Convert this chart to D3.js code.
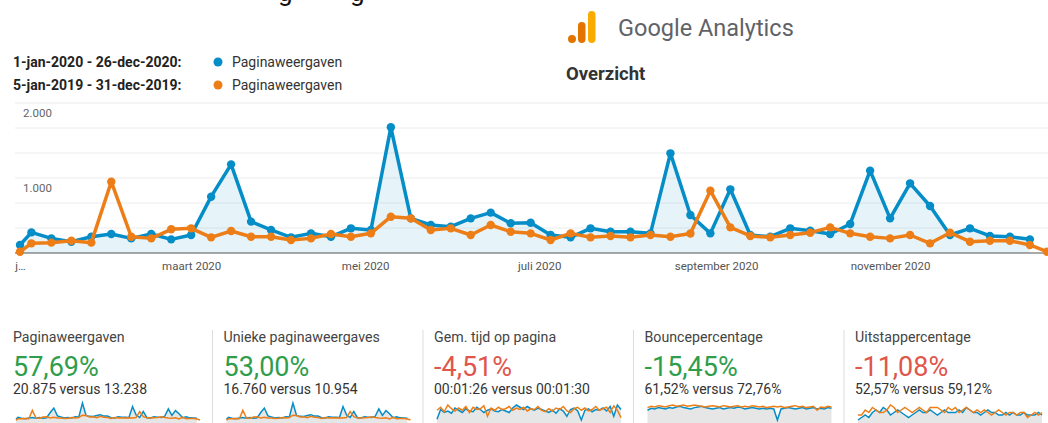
<!DOCTYPE html>
<html>
<head>
<meta charset="utf-8">
<script src="https://cdn.jsdelivr.net/npm/d3@7"></script>
<style>
  body { margin: 0; background: #fff; font-family: Roboto, "Noto Sans", sans-serif; }
</style>
</head>
<body>
<script>
// Weekly page views, current period (1-jan-2020 - 26-dec-2020)
const currentViews = [107, 275, 195, 150, 217, 253, 195, 253, 182, 240, 751, 1182, 418, 307, 209, 262, 217, 329, 307, 1676,
  462, 373, 351, 462, 538, 396, 404, 240, 209, 329, 284, 284, 262, 1329, 507, 262, 849, 240, 217, 329,
  298, 253, 387, 1098, 462, 929, 627, 240, 329, 227, 217, 182];
// Previous period (5-jan-2019 - 31-dec-2019), one point longer
const previousViews = [17, 129, 138, 164, 138, 951, 217, 195, 316, 329, 209, 293, 217, 217, 173, 195, 253, 217, 262, 484,
  462, 307, 329, 240, 373, 284, 262, 173, 262, 209, 227, 209, 240, 217, 260, 831, 342, 227, 209, 240,
  271, 342, 262, 217, 195, 240, 129, 271, 151, 164, 164, 107, 17];

const legendPeriods = ["1-jan-2020 - 26-dec-2020:", "5-jan-2019 - 31-dec-2019:"];
const legendMetric = "Paginaweergaven";

const tickDates = ["2020-01-01", "2020-03-01", "2020-05-01", "2020-07-01", "2020-09-01", "2020-11-01"];
const tickLabels = ["j…", "maart 2020", "mei 2020", "juli 2020", "september 2020", "november 2020"];
const yLabelValues = [2000, 1000];

// bottom scorecards
const metricNames = ["Paginaweergaven", "Unieke paginaweergaves", "Gem. tijd op pagina", "Bouncepercentage", "Uitstappercentage"];
const metricChange = ["57,69%", "53,00%", "-4,51%", "-15,45%", "-11,08%"];
const metricCompare = ["20.875 versus 13.238", "16.760 versus 10.954", "00:01:26 versus 00:01:30", "61,52% versus 72,76%", "52,57% versus 59,12%"];
const metricGood = [true, true, false, true, false];

// sparkline series for the last three cards (read roughly from the thumbnails)
const timeCurrent = [62, 88, 80, 84, 78, 92, 86, 80, 90, 84, 82, 94, 88, 80, 86, 90, 84, 82, 88, 84, 80, 92, 100, 94, 88, 96,
  90, 86, 92, 88, 84, 80, 86, 78, 90, 84, 70, 88, 92, 84, 60, 86, 90, 82, 88, 86, 92, 84, 96, 70, 100, 88];
const timePrevious = [86, 94, 82, 100, 90, 84, 92, 86, 96, 80, 94, 88, 90, 98, 70, 92, 86, 94, 88, 90, 96, 86, 92, 88, 94, 84,
  90, 88, 96, 86, 82, 90, 84, 92, 88, 96, 84, 80, 90, 94, 86, 92, 84, 88, 96, 86, 90, 94, 80, 98, 86, 66];
const bounceCurrent = [60, 63, 62, 64, 63, 62, 64, 63, 65, 66, 64, 63, 62, 64, 65, 66, 64, 63, 62, 63, 64, 62, 63, 64, 63, 65,
  64, 62, 63, 64, 63, 62, 63, 62, 63, 62, 45, 62, 63, 64, 63, 62, 63, 64, 62, 63, 64, 62, 63, 62, 64, 63];
const bouncePrevious = [64, 66, 65, 67, 66, 65, 67, 68, 66, 67, 68, 66, 67, 68, 67, 66, 65, 66, 67, 66, 65, 67, 66, 65, 66, 67,
  65, 66, 65, 67, 66, 65, 66, 64, 65, 66, 65, 66, 64, 65, 66, 67, 65, 66, 64, 65, 66, 60, 65, 64, 66, 65];
const exitCurrent = [53, 54, 55, 54, 56, 57, 56, 58, 57, 55, 56, 57, 56, 55, 54, 55, 56, 57, 56, 56, 57, 56, 55, 56, 57, 56,
  56, 56, 57, 56, 58, 57, 56, 56, 55, 56, 57, 56, 56, 55, 55, 56, 55, 56, 55, 55, 56, 55, 55, 55, 56, 55];
const exitPrevious = [55, 55, 57, 56, 58, 57, 56, 56, 57, 59, 58, 56, 57, 58, 57, 56, 57, 58, 57, 56, 58, 58, 58, 57, 56, 58,
  57, 58, 56, 57, 58, 57, 56, 57, 56, 57, 56, 55, 56, 57, 56, 55, 56, 56, 55, 56, 56, 54, 55, 56, 55, 56];

const blue = "#058dc7", orange = "#ed7e17";
const W = 1048, H = 423;
const parse = d3.timeParse("%Y-%m-%d");
const nl = d3.formatLocale({ decimal: ",", thousands: ".", grouping: [3], currency: ["€", ""] });

// week points: 1 jan partial week, then sundays
const weeks = [parse("2020-01-01")].concat(d3.timeWeek.range(parse("2020-01-05"), parse("2020-12-21")));
const prevDates = weeks.concat([parse("2020-12-26")]);
const cur = currentViews.map((v, i) => ({ date: weeks[i], v }));
const prev = previousViews.map((v, i) => ({ date: prevDates[i], v }));

const svg = d3.select("body").append("svg").attr("width", W).attr("height", H);

// heading cut off at the top of the screenshot
svg.selectAll(".cut").data([278, 350]).join("text")
  .attr("x", d => d).attr("y", 1)
  .style("font-size", "26px").attr("fill", "#111")
  .text("g");

// Google Analytics logo + title
const logo = svg.append("g");
logo.append("circle").attr("cx", 572).attr("cy", 39).attr("r", 4).attr("fill", "#e37400");
logo.append("rect").attr("x", 578).attr("y", 22).attr("width", 7.5).attr("height", 21).attr("rx", 3.7).attr("fill", "#e37400");
logo.append("rect").attr("x", 588).attr("y", 11).attr("width", 7.5).attr("height", 32).attr("rx", 3.7).attr("fill", "#f9ab00");
svg.append("text").attr("x", 618).attr("y", 36).style("font-size", "23.5px").attr("fill", "#5f6368").text("Google Analytics");
svg.append("text").attr("x", 566).attr("y", 80).style("font-size", "18.5px").style("font-weight", "bold").attr("fill", "#333").text("Overzicht");

// legend
const legend = svg.append("g");
legendPeriods.forEach((p, i) => {
  const ly = 62 + i * 23;
  legend.append("text").attr("x", 13).attr("y", ly + 5).style("font-size", "14px").style("font-weight", "bold")
    .attr("fill", "#222").text(p);
  legend.append("circle").attr("cx", 218).attr("cy", ly).attr("r", 4.5).attr("fill", i === 0 ? blue : orange);
  legend.append("text").attr("x", 232).attr("y", ly + 5).style("font-size", "14px").attr("fill", "#333").text(legendMetric);
});

// main chart
const x = d3.scaleTime().domain([parse("2020-01-01"), parse("2020-12-26")]).range([20, 1047]);
const y = d3.scaleLinear().domain([0, 2000]).range([253, 103]);

svg.append("g").selectAll("line")
  .data(d3.range(1, 7).map(i => i * 2000 / 6))
  .join("line")
  .attr("x1", 15).attr("x2", W)
  .attr("y1", d => y(d)).attr("y2", d => y(d))
  .attr("stroke", "#ececec");

svg.append("g").selectAll("text").data(yLabelValues).join("text")
  .attr("x", 23).attr("y", d => y(d) + 14)
  .style("font-size", "11.5px").attr("fill", "#666")
  .text(d => nl.format(",")(d));

svg.append("path").datum(cur)
  .attr("fill", blue).attr("fill-opacity", 0.1)
  .attr("d", d3.area().x(d => x(d.date)).y0(y(0)).y1(d => y(d.v)));

svg.append("line").attr("x1", 15).attr("x2", W).attr("y1", y(0)).attr("y2", y(0)).attr("stroke", "#555");

const line = d3.line().x(d => x(d.date)).y(d => y(d.v));
[[cur, blue], [prev, orange]].forEach(([data, color]) => {
  svg.append("path").datum(data).attr("fill", "none").attr("stroke", color)
    .attr("stroke-width", 3.5).attr("stroke-linejoin", "round").attr("d", line);
  svg.append("g").selectAll("circle").data(data).join("circle")
    .attr("cx", d => x(d.date)).attr("cy", d => y(d.v)).attr("r", 4.2).attr("fill", color);
});

const xAxis = svg.append("g").attr("transform", `translate(0,${y(0)})`)
  .call(d3.axisBottom(x).tickValues(tickDates.map(parse)).tickSize(0).tickPadding(9)
    .tickFormat((d, i) => tickLabels[i]));
xAxis.select(".domain").remove();
xAxis.selectAll("text").style("font-size", "11.5px").style("font-family", "Roboto, sans-serif").attr("fill", "#555");

// scorecards
const cardX = [13, 223.5, 434, 644.5, 855];
const sparkData = [
  [cur, prev], [cur, prev],
  [timeCurrent, timePrevious], [bounceCurrent, bouncePrevious], [exitCurrent, exitPrevious]
];

metricNames.forEach((name, i) => {
  const cx = cardX[i];
  const g = svg.append("g");
  if (i > 0) g.append("line").attr("x1", cx - 11).attr("x2", cx - 11).attr("y1", 330).attr("y2", H).attr("stroke", "#ddd");
  g.append("text").attr("x", cx).attr("y", 342).style("font-size", "14.2px").attr("fill", "#444").text(name);
  g.append("text").attr("x", cx).attr("y", 376).style("font-size", "27px")
    .attr("fill", metricGood[i] ? "#2f9e4c" : "#e0564b").text(metricChange[i]);
  g.append("text").attr("x", cx).attr("y", 394).style("font-size", "14px").attr("fill", "#333").text(metricCompare[i]);

  // sparkline
  const [a, b] = sparkData[i];
  let sx, va, vb;
  if (i < 2) {
    sx = x.copy().range([cx + 3, cx + 187]);
    va = a.map(d => [sx(d.date), d.v]);
    vb = b.map(d => [sx(d.date), d.v]);
  } else {
    sx = d3.scaleLinear().domain([0, a.length - 1]).range([cx + 3, cx + 187]);
    va = a.map((v, k) => [sx(k), v]);
    vb = b.map((v, k) => [sx(k), v]);
  }
  const ext = d3.extent(va.concat(vb), d => d[1]);
  const sy = d3.scaleLinear().domain(ext).range(i < 2 ? [420, 403] : [420, 405]);
  g.append("path").datum(va).attr("fill", "#e6e6e6")
    .attr("d", d3.area().x(d => d[0]).y0(H).y1(d => sy(d[1])));
  g.append("path").datum(va).attr("fill", "none").attr("stroke", blue).attr("stroke-width", 1.5)
    .attr("d", d3.line().x(d => d[0]).y(d => sy(d[1])));
  g.append("path").datum(vb).attr("fill", "none").attr("stroke", orange).attr("stroke-width", 1.5)
    .attr("d", d3.line().x(d => d[0]).y(d => sy(d[1])));
});
</script>
</body>
</html>
